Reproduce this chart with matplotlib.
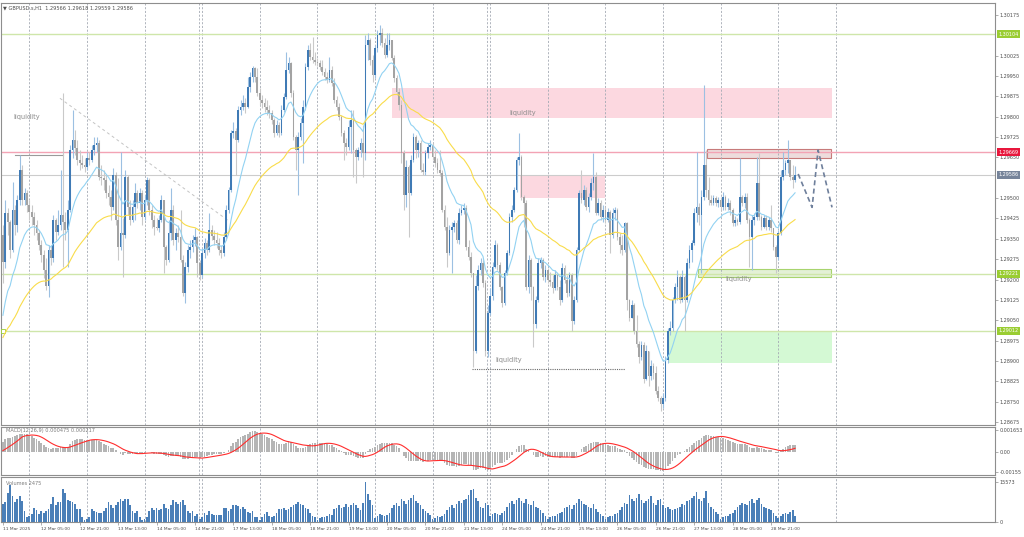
import numpy as np
import matplotlib
matplotlib.use("Agg")
import matplotlib.pyplot as plt
from matplotlib.patches import Rectangle

# ---------------- data (GBPUSD.s H1) ----------------
first_open = 1.29363
closes = [
1.29264,1.29444,1.29411,1.29308,1.29455,1.29400,1.29492,1.29603,1.29492,1.29518,
1.29474,1.29448,1.29429,1.29400,1.29370,1.29326,1.29289,1.29234,1.29178,1.29308,
1.29278,1.29418,1.29374,1.29400,1.29437,1.29411,1.29381,1.29455,1.29677,1.29714,
1.29684,1.29640,1.29629,1.29622,1.29614,1.29647,1.29640,1.29677,1.29695,1.29703,
1.29577,1.29573,1.29566,1.29518,1.29503,1.29466,1.29585,1.29418,1.29319,1.29370,
1.29363,1.29577,1.29466,1.29418,1.29466,1.29518,1.29481,1.29518,1.29429,1.29492,
1.29566,1.29455,1.29418,1.29392,1.29389,1.29418,1.29492,1.29319,1.29271,1.29370,
1.29455,1.29344,1.29370,1.29356,1.29271,1.29149,1.29245,1.29308,1.29319,1.29344,
1.29356,1.29260,1.29215,1.29297,1.29333,1.29308,1.29381,1.29359,1.29344,1.29333,
1.29308,1.29297,1.29356,1.29455,1.29529,1.29740,1.29747,1.29714,1.29824,1.29835,
1.29850,1.29835,1.29909,1.29946,1.29979,1.29946,1.29887,1.29861,1.29850,1.29835,
1.29824,1.29813,1.29787,1.29740,1.29769,1.29740,1.29824,1.29872,1.29972,1.29998,
1.29887,1.29725,1.29677,1.29725,1.29776,1.29835,1.29983,1.30046,1.30020,1.30009,
1.30001,1.29998,1.29983,1.29964,1.29946,1.29935,1.29972,1.29924,1.29861,1.29835,
1.29798,1.29740,1.29703,1.29688,1.29761,1.29787,1.29677,1.29651,1.29677,1.29703,
1.29666,1.30064,1.30083,1.30009,1.29953,1.30053,1.30101,1.30108,1.30071,1.30027,
1.30064,1.30083,1.30016,1.29942,1.29891,1.29843,1.29666,1.29511,1.29614,1.29518,
1.29640,1.29725,1.29677,1.29703,1.29603,1.29596,1.29666,1.29688,1.29695,1.29651,
1.29629,1.29603,1.29592,1.29455,1.29392,1.29297,1.29381,1.29392,1.29407,1.29344,
1.29444,1.29455,1.29462,1.29319,1.29282,1.29223,1.28938,1.29178,1.29234,1.29260,
1.29186,1.28938,1.29075,1.29141,1.29245,1.29326,1.29252,1.29171,1.29112,1.29223,
1.29297,1.29429,1.29455,1.29529,1.29640,1.29651,1.29503,1.29481,1.29171,1.29271,
1.29171,1.29038,1.29123,1.29260,1.29271,1.29208,1.29234,1.29197,1.29190,1.29167,
1.29215,1.29171,1.29123,1.29241,1.29197,1.29149,1.29215,1.29049,1.29123,1.29308,
1.29518,1.29492,1.29529,1.29466,1.29503,1.29555,1.29577,1.29444,1.29481,1.29429,
1.29455,1.29418,1.29448,1.29363,1.29444,1.29455,1.29356,1.29326,1.29308,1.29407,
1.29123,1.29060,1.29105,1.29012,1.28964,1.28913,1.28957,1.28835,1.28938,1.28846,
1.28883,1.28857,1.28791,1.28765,1.28743,1.28765,1.28902,1.29012,1.29023,1.29123,
1.29171,1.29208,1.29123,1.29208,1.29123,1.29260,1.29308,1.29333,1.29444,1.29466,
1.29437,1.29503,1.29622,1.29529,1.29492,1.29481,1.29500,1.29481,1.29492,1.29466,
1.29503,1.29466,1.29481,1.29455,1.29407,1.29418,1.29411,1.29503,1.29481,1.29503,
1.29418,1.29356,1.29418,1.29429,1.29555,1.29429,1.29392,1.29425,1.29392,1.29418,
1.29389,1.29319,1.29282,1.29370,1.29577,1.29603,1.29629,1.29640,1.29577,1.29566,
1.29586]
highs = [
1.29400,1.29492,1.29462,1.29418,1.29559,1.29474,1.29511,1.29659,1.29622,1.29536,
1.29529,1.29492,1.29474,1.29448,1.29418,1.29381,1.29344,1.29308,1.29278,1.29326,
1.29326,1.29437,1.29425,1.29455,1.29603,1.29887,1.29448,1.29492,1.29695,1.29824,
1.29750,1.29714,1.29677,1.29659,1.29647,1.29670,1.29670,1.29695,1.29725,1.29725,
1.29714,1.29622,1.29603,1.29585,1.29548,1.29529,1.29610,1.29596,1.29573,1.29670,
1.29425,1.29603,1.29585,1.29492,1.29492,1.29555,1.29529,1.29536,1.29529,1.29511,
1.29577,1.29573,1.29474,1.29437,1.29425,1.29437,1.29511,1.29492,1.29326,1.29418,
1.29536,1.29474,1.29389,1.29400,1.29455,1.29289,1.29264,1.29326,1.29344,1.29363,
1.29389,1.29359,1.29271,1.29315,1.29352,1.29344,1.29444,1.29400,1.29381,1.29374,
1.29352,1.29326,1.29374,1.29474,1.29540,1.29750,1.29780,1.29758,1.29839,1.29861,
1.29880,1.29868,1.29946,1.29964,1.29987,1.29983,1.29979,1.29905,1.29880,1.29868,
1.29861,1.29843,1.29824,1.29795,1.29787,1.29780,1.29843,1.29887,1.30038,1.30020,
1.30001,1.29898,1.29732,1.29743,1.29795,1.29861,1.29998,1.30064,1.30071,1.30093,
1.30038,1.30016,1.30009,1.30009,1.29979,1.29964,1.30020,1.29987,1.29942,1.29876,
1.29850,1.29806,1.29750,1.29721,1.29787,1.29824,1.29824,1.29684,1.29688,1.29721,
1.29769,1.30101,1.30108,1.30090,1.30027,1.30064,1.30119,1.30138,1.30127,1.30090,
1.30108,1.30108,1.30083,1.30027,1.29954,1.29905,1.29861,1.29677,1.29640,1.29622,
1.29659,1.29740,1.29732,1.29714,1.29714,1.29629,1.29677,1.29703,1.29714,1.29703,
1.29677,1.29647,1.29677,1.29603,1.29474,1.29429,1.29400,1.29411,1.29418,1.29418,
1.29462,1.29474,1.29481,1.29474,1.29344,1.29301,1.29223,1.29215,1.29252,1.29278,
1.29271,1.29197,1.29105,1.29167,1.29264,1.29344,1.29333,1.29264,1.29178,1.29234,
1.29308,1.29444,1.29474,1.29540,1.29651,1.29740,1.29659,1.29511,1.29492,1.29289,
1.29278,1.29178,1.29141,1.29278,1.29282,1.29278,1.29252,1.29241,1.29226,1.29215,
1.29234,1.29223,1.29197,1.29260,1.29252,1.29215,1.29226,1.29223,1.29141,1.29319,
1.29529,1.29603,1.29548,1.29540,1.29518,1.29573,1.29666,1.29596,1.29500,1.29492,
1.29474,1.29466,1.29462,1.29455,1.29462,1.29466,1.29462,1.29370,1.29363,1.29411,
1.29411,1.29130,1.29123,1.29112,1.29068,1.28975,1.28975,1.28968,1.28957,1.28938,
1.28902,1.28891,1.28883,1.28809,1.28772,1.28783,1.28920,1.29023,1.29049,1.29134,
1.29186,1.29234,1.29215,1.29234,1.29215,1.29278,1.29326,1.29344,1.29462,1.29670,
1.29481,1.29529,1.29917,1.29677,1.29577,1.29511,1.29511,1.29507,1.29503,1.29503,
1.29522,1.29511,1.29500,1.29492,1.29462,1.29433,1.29425,1.29647,1.29511,1.29518,
1.29518,1.29425,1.29437,1.29444,1.29651,1.29666,1.29437,1.29437,1.29437,1.29429,
1.29474,1.29389,1.29326,1.29381,1.29603,1.29670,1.29640,1.29714,1.29640,1.29622,
1.29618]
lows = [
1.29186,1.29241,1.29363,1.29278,1.29301,1.29363,1.29374,1.29474,1.29474,1.29474,
1.29448,1.29418,1.29400,1.29363,1.29344,1.29308,1.29264,1.29204,1.29160,1.29134,
1.29252,1.29264,1.29344,1.29363,1.29381,1.29245,1.29344,1.29245,1.29448,1.29647,
1.29659,1.29622,1.29603,1.29610,1.29596,1.29603,1.29622,1.29633,1.29659,1.29670,
1.29566,1.29548,1.29529,1.29500,1.29474,1.29418,1.29455,1.29400,1.29271,1.29308,
1.29208,1.29352,1.29437,1.29400,1.29411,1.29418,1.29462,1.29455,1.29400,1.29418,
1.29474,1.29437,1.29389,1.29363,1.29381,1.29374,1.29411,1.29223,1.29252,1.29264,
1.29344,1.29326,1.29308,1.29337,1.29264,1.29141,1.29112,1.29226,1.29278,1.29301,
1.29322,1.29208,1.29197,1.29204,1.29278,1.29289,1.29301,1.29344,1.29326,1.29315,
1.29289,1.29278,1.29286,1.29344,1.29444,1.29522,1.29721,1.29585,1.29706,1.29806,
1.29824,1.29813,1.29831,1.29891,1.29927,1.29927,1.29876,1.29843,1.29831,1.29817,
1.29806,1.29795,1.29772,1.29725,1.29732,1.29725,1.29732,1.29817,1.29865,1.29961,
1.29872,1.29714,1.29603,1.29511,1.29714,1.29629,1.29824,1.29972,1.30009,1.29998,
1.29990,1.29987,1.29972,1.29953,1.29935,1.29924,1.29927,1.29913,1.29850,1.29824,
1.29787,1.29728,1.29640,1.29659,1.29677,1.29666,1.29577,1.29555,1.29640,1.29651,
1.29577,1.29640,1.30009,1.29990,1.29927,1.29942,1.30038,1.30064,1.30057,1.30016,
1.30020,1.30046,1.30009,1.29927,1.29880,1.29824,1.29629,1.29455,1.29466,1.29356,
1.29511,1.29633,1.29647,1.29651,1.29596,1.29585,1.29585,1.29647,1.29677,1.29640,
1.29614,1.29592,1.29581,1.29448,1.29381,1.29245,1.29289,1.29223,1.29374,1.29333,
1.29330,1.29437,1.29440,1.29308,1.29271,1.29208,1.28876,1.28931,1.29160,1.29215,
1.29171,1.28920,1.28913,1.29068,1.29123,1.29241,1.29234,1.29160,1.29097,1.29105,
1.29215,1.29289,1.29411,1.29448,1.29522,1.29622,1.29492,1.29392,1.29160,1.29152,
1.29123,1.28950,1.29020,1.29116,1.29241,1.29197,1.29190,1.29186,1.29178,1.29152,
1.29160,1.29160,1.29105,1.29116,1.29186,1.29134,1.29141,1.29012,1.29038,1.29116,
1.29301,1.29481,1.29474,1.29455,1.29448,1.29492,1.29529,1.29437,1.29437,1.29418,
1.29411,1.29407,1.29411,1.29297,1.29352,1.29418,1.29344,1.29297,1.29289,1.29301,
1.29086,1.29049,1.29057,1.29001,1.28953,1.28891,1.28902,1.28817,1.28828,1.28809,
1.28828,1.28835,1.28780,1.28754,1.28717,1.28728,1.28754,1.28891,1.28994,1.29012,
1.29112,1.29123,1.29112,1.29116,1.29012,1.29116,1.29241,1.29264,1.29326,1.29411,
1.29400,1.29223,1.29492,1.29503,1.29474,1.29474,1.29474,1.29470,1.29466,1.29455,
1.29455,1.29455,1.29455,1.29437,1.29396,1.29396,1.29400,1.29403,1.29470,1.29462,
1.29407,1.29245,1.29234,1.29400,1.29418,1.29418,1.29381,1.29389,1.29381,1.29381,
1.29374,1.29308,1.29223,1.29271,1.29363,1.29566,1.29585,1.29592,1.29566,1.29536,
1.29559]
volumes = [
7100,7700,11300,14300,10300,7700,8900,10300,8300,4200,
1800,2400,3200,5400,4800,3000,4200,3600,4400,5100,
7100,9900,6800,7700,7700,12700,11100,8700,8300,7700,
7100,5100,5100,1800,800,1200,1800,5100,4400,3900,
3600,3600,4200,5400,7700,6500,5600,6500,7700,8900,
8300,8900,8900,6500,4200,3600,4400,2000,600,1200,
1800,4200,5600,4800,5400,4800,5100,7100,5600,5100,
6800,8700,7700,7100,7700,8700,6500,4400,3600,4200,
2400,3000,1200,2000,3600,2700,4400,3200,2700,2700,
2700,2700,5600,5600,4200,5100,6800,6500,6300,5100,
6000,5100,3900,3600,4400,2000,1800,800,1800,3000,
3900,2400,2000,2400,3600,5100,5100,5600,4800,5100,
6000,6500,7100,7700,
7100,6500,5600,5100,3600,2400,1800,
900,1500,2000,1800,2400,3000,2800,
5000,5600,6500,5400,6000,7000,5800,6500,7200,6800,5600,4800,7500,
15500,
11000,8500,6500,
1500,2500,3000,2600,2200,2800,3500,
5500,6800,7500,6200,9000,8000,7000,8500,9500,10500,8000,7200,6500,5000,4200,3500,2600,
1000,1500,2200,2000,2500,3200,4500,
6000,6500,5500,7000,8000,7500,8500,9000,10500,12500,13000,9500,8000,6000,5500,7500,6500,
2500,3000,3500,3000,2800,3500,4200,
6000,7500,8000,7000,8500,9500,8000,7500,9000,7000,6500,8000,6000,5500,4500,3500,2500,
1200,2000,2500,2200,3000,3500,4000,
5500,6000,6500,5000,6500,7500,9000,8000,7000,6500,6000,5500,7000,5000,4000,3000,2200,
1000,1800,2500,2200,3000,3500,4500,
6000,7500,7000,10500,9000,8000,9500,11000,8500,7500,8000,9000,10000,7500,6500,8500,9000,
6500,5500,6000,5000,4500,5000,5500,
6000,7000,6500,8000,8500,9500,10000,11500,9000,8000,9500,12000,7500,6000,5000,4000,3000,
1200,2000,2500,2300,3000,3500,4500,
6000,6500,7500,7000,6500,8000,9000,7500,8500,9500,7000,6000,5500,5000,4500,3500,2500,
1500,2500,3000,3500,3000,4000,4500,2475]

# indicator settings / seeds
ma_fast_period, ma_fast_seed = 14, 1.29038
ma_slow_period, ma_slow_seed = 50, 1.28975
macd_fast_seed, macd_slow_seed, macd_signal_seed = 1.2912, 1.2905, 0.0

# time axis labels (bar index -> label)
xlabel_idx = [0, 16, 32, 48, 64, 80, 96, 112, 128, 144, 160, 176, 192, 208, 224, 240, 256, 272, 288, 304, 320]
xlabel_text = ["11 Mar 2025", "12 Mar 05:00", "12 Mar 21:00", "13 Mar 13:00", "14 Mar 05:00", "14 Mar 21:00",
               "17 Mar 13:00", "18 Mar 05:00", "18 Mar 21:00", "19 Mar 13:00", "20 Mar 05:00", "20 Mar 21:00",
               "21 Mar 13:00", "24 Mar 05:00", "24 Mar 21:00", "25 Mar 13:00", "26 Mar 05:00", "26 Mar 21:00",
               "27 Mar 13:00", "28 Mar 05:00", "28 Mar 21:00"]
day_sep_idx = [11, 35, 59, 83, 107, 131, 155, 179, 203, 227, 251, 275, 299, 323, 347, 81.7, 201.7]
price_ticks = [1.30175, 1.30025, 1.29950, 1.29875, 1.29800, 1.29725, 1.29650, 1.29500, 1.29425, 1.29350,
               1.29275, 1.29200, 1.29125, 1.29050, 1.28975, 1.28900, 1.28825, 1.28750, 1.28675]
level_lines = [(1.30104, '#cfe6aa', '#9acd32'), (1.29669, '#f3a3b4', '#e8173c'),
               (1.29221, '#cfe6aa', '#9acd32'), (1.29012, '#cfe6aa', '#9acd32')]
macd_ticks = [0.001653, 0.0, -0.00155]
macd_tick_labels = ["0.001653", "0.00", "-0.00155"]
vol_ticks = [0, 15573]

# drawn objects (bar index, price)
zones = [  # x0, x1, y_low, y_high, face, edge
    (162.0, 345.4, 1.29795, 1.29905, '#fcd8e0', 'none'),
    (215.4, 250.8, 1.29500, 1.29585, '#fcd8e0', 'none'),
    (277.0, 345.4, 1.28894, 1.29005, '#d4f9d4', 'none'),
    (293.3, 345.0, 1.29647, 1.29680, '#eddcdc', '#c77a7a'),
    (289.6, 345.0, 1.29208, 1.29237, '#e3f0d6', '#a8d46e'),
]
proj_x = [331.3, 337.1, 339.6, 345.4]
proj_y = [1.29589, 1.29466, 1.29677, 1.29466]
diag_x, diag_y = [23.75, 93.75], [1.29868, 1.29418]
liq_texts = [(4.2, 1.29798), (211.0, 1.29813), (205.0, 1.28902), (301.0, 1.29201)]

# ---------------- computation ----------------
closes = np.array(closes); highs = np.array(highs); lows = np.array(lows)
volumes = np.array(volumes, dtype=float)
n = len(closes)
assert len(highs) == n and len(lows) == n and len(volumes) == n, (n, len(highs), len(lows), len(volumes))
idx = np.arange(n)
opens = np.concatenate([[first_open], closes[:-1]])


def ema(vals, period, seed):
    a = 2.0 / (period + 1)
    out = np.empty(len(vals)); prev = seed
    for k, v in enumerate(vals):
        prev = prev + a * (v - prev); out[k] = prev
    return out

ma_fast = ema(closes, ma_fast_period, ma_fast_seed)
ma_slow = ema(closes, ma_slow_period, ma_slow_seed)
macd = ema(closes, 12, macd_fast_seed) - ema(closes, 26, macd_slow_seed)
signal = np.convolve(np.concatenate([np.full(8, macd_signal_seed), macd]), np.ones(9) / 9, mode='valid')

# ---------------- figure ----------------
W, H = 1024, 537
fig = plt.figure(figsize=(W / 100, H / 100), dpi=100)
fig.patch.set_facecolor('white')


def rect(x0, y0, x1, y1):
    return [x0 / W, 1 - y1 / H, (x1 - x0) / W, (y1 - y0) / H]

ax = fig.add_axes(rect(1, 3, 995, 425))
axm = fig.add_axes(rect(1, 427, 995, 475))
axv = fig.add_axes(rect(1, 477, 995, 522))

TXT = '#4d4d4d'
for a in (ax, axm, axv):
    a.set_xlim(-0.8, 413.3)
    a.set_facecolor('white')
    for s in a.spines.values():
        s.set_color('#8e8e8e'); s.set_linewidth(0.8)
    a.yaxis.tick_right()
    a.tick_params(axis='x', length=0, labelbottom=False)
    a.tick_params(axis='y', labelsize=3.5, length=2, width=0.5, colors='#8e8e8e',
                  labelcolor=TXT, pad=1.5)
    for g in day_sep_idx:
        a.axvline(g, color='#a3a9b3', lw=0.6, ls=(0, (2.5, 2)), zorder=1)

# main panel
ax.set_ylim(1.28664, 1.30219)
ax.set_yticks(price_ticks)
ax.set_yticklabels(['%.5f' % p for p in price_ticks])

for x0, x1, y0, y1, fc, ec in zones:
    ax.add_patch(Rectangle((x0, y0), x1 - x0, y1 - y0, facecolor=fc,
                           edgecolor=ec, lw=0.8 if ec != 'none' else 0, zorder=0.6))

for price, lc, bc in level_lines:
    ax.axhline(price, color=lc, lw=1.0, zorder=2)
ax.axhline(closes[-1], color='#cccccc', lw=0.8, zorder=2)
ax.plot([0.0], [level_lines[3][0]], marker='s', ms=2.2, mfc='white', mec='#9acd32', mew=0.6, zorder=3, clip_on=False)

# liquidity annotations
ax.plot([5, 25], [1.29658, 1.29658], color='#9a9a9a', lw=0.8, zorder=2)
ax.plot(diag_x, diag_y, color='#c4c4c4', lw=0.7, ls=(0, (3, 3)), zorder=2)
ax.plot([195.4, 259.2], [1.28872, 1.28872], color='#6a6a6a', lw=0.8, ls=(0, (1, 1)), zorder=2)
for tx, ty in liq_texts:
    ax.text(tx, ty, 'liquidity', fontsize=4.8, color='#8c8c8c', ha='left', va='center', zorder=6)

# candles
up = closes >= opens
body_lo = np.minimum(opens, closes)
body_h = np.maximum(np.abs(closes - opens), 0.000015)
ax.vlines(idx[up], lows[up], highs[up], color='#9cc0e2', lw=0.8, zorder=3)
ax.vlines(idx[~up], lows[~up], highs[~up], color='#c9c9c9', lw=0.8, zorder=3)
ax.bar(idx[up], body_h[up], bottom=body_lo[up], width=0.72, color='#3f7ab5', lw=0, zorder=4)
ax.bar(idx[~up], body_h[~up], bottom=body_lo[~up], width=0.72, color='#a3a3a3', lw=0, zorder=4)

ax.plot(idx, ma_fast, color='#92d2f2', lw=0.8, zorder=5)
ax.plot(idx, ma_slow, color='#f9dc4a', lw=0.8, zorder=5)

ax.plot(proj_x, proj_y, color='#6e7f9b', lw=1.2, ls=(0, (3, 2)), zorder=6)

# right-axis price boxes
boxes = [(p, bc) for p, lc, bc in level_lines] + [(closes[-1], '#76849a')]
for p, bc in boxes:
    ax.annotate('%.5f' % p, xy=(1.0, p), xycoords=('axes fraction', 'data'),
                xytext=(2.2, 0), textcoords='offset points', fontsize=3.5, color='white',
                ha='left', va='center', annotation_clip=False, zorder=10,
                bbox=dict(boxstyle='square,pad=0.3', fc=bc, ec='none'))

fig.text(3 / W, 1 - 7.5 / H,
         u'\u25BC GBPUSD.s,H1  %.5f %.5f %.5f %.5f' % (opens[-1], highs[-1], lows[-1], closes[-1]),
         fontsize=3.6, color=TXT, ha='left', va='center')

# MACD panel
axm.bar(idx, macd, width=0.72, color='#b5b5b5', lw=0, zorder=3)
axm.plot(idx, signal, color='#ff2d2d', lw=0.8, zorder=4)
axm.set_ylim(-0.00178, 0.00188)
axm.set_yticks(macd_ticks)
axm.set_yticklabels(macd_tick_labels)
axm.text(0.005, 0.93, 'MACD(12,26,9) 0.000475 0.000217', transform=axm.transAxes,
         fontsize=3.6, color='#7a7a7a', ha='left', va='center', zorder=6)

# Volume panel
axv.bar(idx, volumes, width=0.72, color='#4a7fb8', lw=0, zorder=3)
axv.set_ylim(0, 17500)
axv.set_yticks(vol_ticks)
axv.set_yticklabels([str(v) for v in vol_ticks])
axv.text(0.005, 0.86, 'Volumes %d' % volumes[-1], transform=axv.transAxes,
         fontsize=3.6, color='#7a7a7a', ha='left', va='center', zorder=6)
axv.set_xticks(xlabel_idx)
axv.set_xticklabels(xlabel_text, fontsize=3.2, color=TXT, ha='left')
axv.tick_params(axis='x', length=2, width=0.5, colors='#8e8e8e', labelcolor=TXT,
                labelbottom=True, pad=1.5)

fig.savefig('out.png', dpi=100)
